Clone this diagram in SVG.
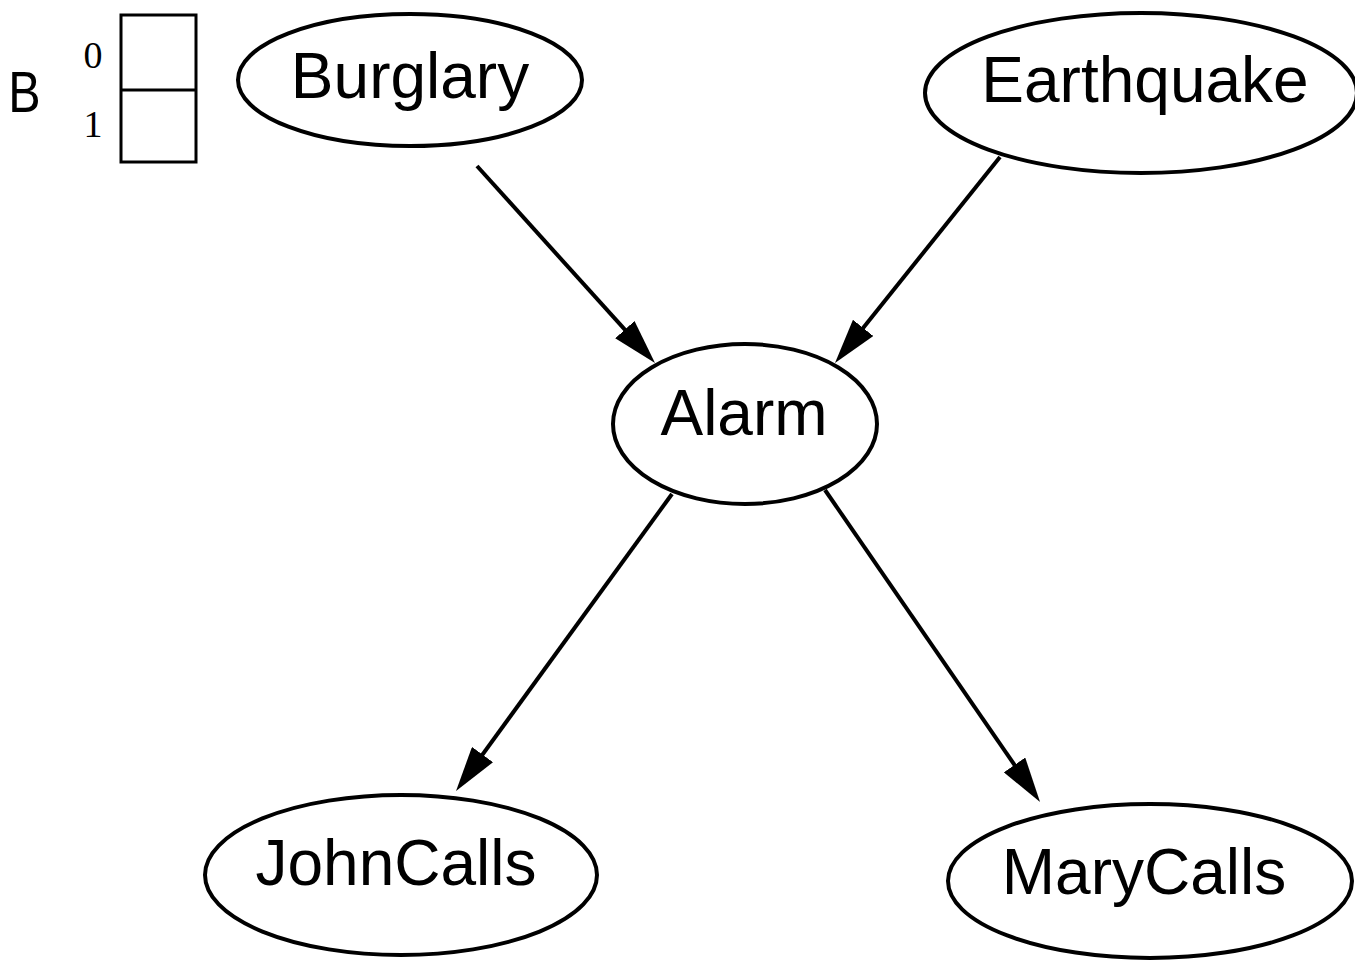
<svg xmlns="http://www.w3.org/2000/svg" width="1355" height="961" viewBox="0 0 1355 961">
<style>
.node ellipse{fill:#fff;stroke:#000;stroke-width:4}
.lbl{font-family:"Liberation Sans",Arial,sans-serif;font-size:64px;text-anchor:middle;fill:#000}
.edge{stroke:#000;stroke-width:4;fill:none}
.dig{font-family:"Liberation Serif","Times New Roman",serif;font-size:38px;text-anchor:middle;fill:#000}
.var{font-family:"Liberation Sans",Arial,sans-serif;font-size:57px;text-anchor:middle;fill:#000}
</style>
<defs>
<marker id="ah" viewBox="0 0 45 26" markerWidth="45" markerHeight="26" refX="25" refY="13" orient="auto" markerUnits="userSpaceOnUse">
<path d="M0,0 L45,13 L0,26 z" fill="#000"/>
</marker>
</defs>
<rect width="1355" height="961" fill="#fff"/>
<g id="table">
<text class="var" x="0" y="0" transform="translate(24.5,112) scale(0.85,1)">B</text>
<text class="dig" x="93" y="68">0</text>
<text class="dig" x="93" y="137">1</text>
<rect x="121" y="15" width="75" height="147" fill="none" stroke="#000" stroke-width="3"/>
<line x1="121" y1="90" x2="196" y2="90" stroke="#000" stroke-width="3"/>
</g>
<g id="connectors">
<line class="edge" x1="477" y1="166" x2="641.6" y2="348.2" marker-end="url(#ah)"/>
<line class="edge" x1="1000" y1="157" x2="847.5" y2="347.4" marker-end="url(#ah)"/>
<line class="edge" x1="672" y1="494" x2="467.8" y2="774.8" marker-end="url(#ah)"/>
<line class="edge" x1="825" y1="490" x2="1028.7" y2="785.5" marker-end="url(#ah)"/>
</g>
<g id="Burglary" class="node">
<ellipse cx="410" cy="80" rx="172" ry="66"/>
<text class="lbl" x="410" y="98">Burglary</text>
</g>
<g id="Earthquake" class="node">
<ellipse cx="1141" cy="93" rx="216" ry="80"/>
<text class="lbl" x="1145" y="102">Earthquake</text>
</g>
<g id="Alarm" class="node">
<ellipse cx="745" cy="424" rx="132" ry="80"/>
<text class="lbl" x="744" y="435">Alarm</text>
</g>
<g id="JohnCalls" class="node">
<ellipse cx="401" cy="875" rx="196" ry="80"/>
<text class="lbl" x="396" y="885">JohnCalls</text>
</g>
<g id="MaryCalls" class="node">
<ellipse cx="1150" cy="881" rx="202" ry="77"/>
<text class="lbl" x="1144" y="894">MaryCalls</text>
</g>
</svg>
